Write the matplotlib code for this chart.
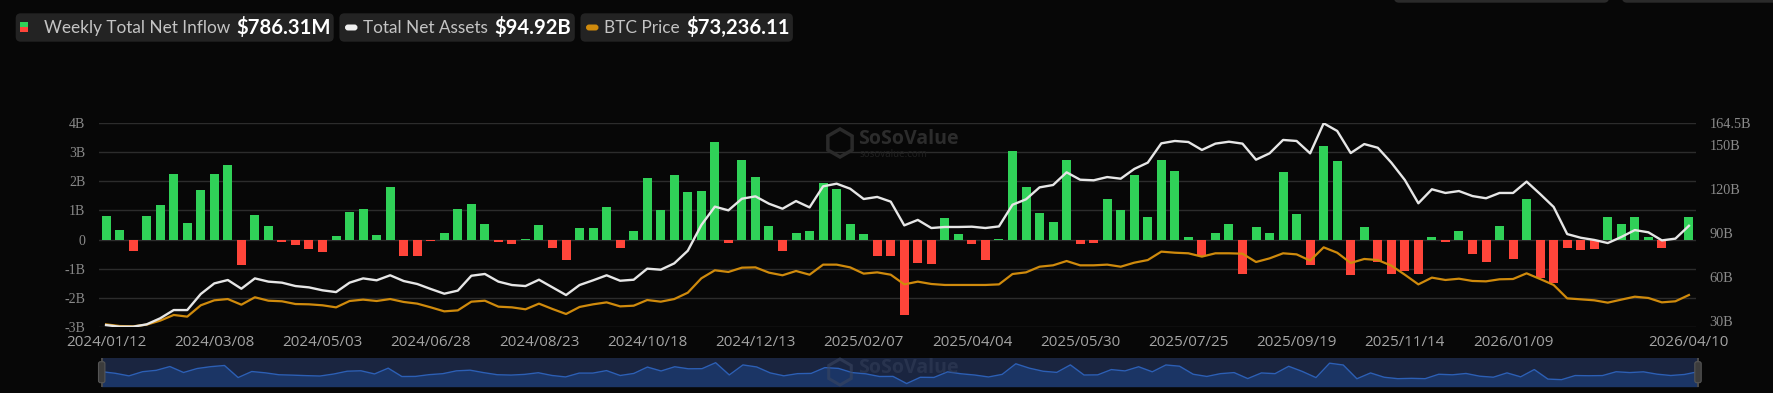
import matplotlib
matplotlib.use("Agg")
import matplotlib.pyplot as plt
from matplotlib.patches import FancyBboxPatch, Rectangle, RegularPolygon
import numpy as np
import pandas as pd

# ---------------- data ----------------
weeks = pd.date_range("2024-01-12", "2026-04-10", freq="7D")
date_labels = [d.strftime("%Y/%m/%d") for d in weeks]

tick_labels = ["2024/01/12", "2024/03/08", "2024/05/03", "2024/06/28", "2024/08/23",
               "2024/10/18", "2024/12/13", "2025/02/07", "2025/04/04", "2025/05/30",
               "2025/07/25", "2025/09/19", "2025/11/14", "2026/01/09", "2026/04/10"]

# Weekly total net inflow (billions USD)
net_inflow = [0.80, 0.34, -0.40, 0.80, 1.19, 2.27, 0.57, 1.71, 2.24, 2.57,
              -0.88, 0.85, 0.47, -0.08, -0.19, -0.33, -0.44, 0.13, 0.94, 1.06,
              0.16, 1.81, -0.58, -0.55, -0.05, 0.23, 1.04, 1.23, 0.53, -0.07,
              -0.17, 0.03, 0.50, -0.28, -0.70, 0.40, 0.40, 1.11, -0.29, 0.30,
              2.12, 1.00, 2.21, 1.63, 1.66, 3.37, -0.13, 2.73, 2.16, 0.45,
              -0.38, 0.24, 0.31, 1.96, 1.74, 0.54, 0.19, -0.57, -0.55, -2.59,
              -0.80, -0.84, 0.75, 0.20, -0.16, -0.71, 0.03, 3.06, 1.80, 0.93,
              0.60, 2.74, -0.15, -0.11, 1.40, 1.02, 2.21, 0.77, 2.72, 2.37,
              0.07, -0.56, 0.24, 0.54, -1.17, 0.44, 0.24, 2.34, 0.87, -0.89,
              3.23, 2.71, -1.22, 0.44, -0.79, -1.20, -1.10, -1.20, 0.07, -0.09,
              0.29, -0.49, -0.78, 0.46, -0.67, 1.41, -1.31, -1.48, -0.30, -0.36,
              -0.31, 0.78, 0.55, 0.76, 0.09, -0.29, 0.00, 0.78631]

# Total net assets (billions USD)
net_assets = [27.5, 26.4, 26.4, 28.0, 32.1, 37.7, 37.7, 48.6, 55.8, 58.1,
              52.2, 59.2, 57.0, 56.3, 54.0, 53.1, 51.1, 49.9, 56.3, 59.2,
              57.9, 61.3, 57.4, 55.4, 52.0, 48.8, 50.9, 61.0, 62.2, 57.0,
              54.7, 54.0, 58.3, 53.1, 47.9, 54.7, 57.9, 61.3, 57.6, 58.3,
              65.8, 65.1, 69.4, 78.0, 95.4, 107.9, 105.4, 113.3, 114.9, 109.9,
              106.5, 111.7, 107.4, 121.7, 123.5, 120.1, 113.1, 114.5, 111.3, 95.2,
              98.9, 93.4, 94.1, 94.1, 94.3, 93.4, 94.5, 109.2, 112.9, 121.0,
              122.6, 131.2, 126.2, 125.8, 128.0, 126.9, 133.5, 137.8, 150.9, 152.5,
              151.8, 146.4, 150.7, 152.0, 150.7, 139.8, 144.1, 153.2, 152.5, 144.1,
              164.5, 159.3, 144.3, 150.4, 147.9, 137.8, 126.0, 110.2, 119.7, 117.2,
              118.5, 115.1, 113.6, 117.2, 117.2, 124.9, 116.5, 107.7, 89.3, 86.8,
              85.3, 83.2, 87.3, 92.0, 90.5, 85.0, 86.2, 94.92]

# BTC price (thousands USD)
btc_price = [43.2, 41.5, 41.2, 42.9, 47.0, 52.8, 51.1, 62.7, 67.8, 69.1,
             63.3, 70.9, 67.4, 66.8, 64.0, 63.7, 62.7, 60.6, 67.1, 68.5,
             67.1, 69.1, 66.1, 64.4, 60.6, 56.5, 57.5, 66.4, 67.4, 61.3,
             60.6, 58.6, 64.4, 58.9, 53.8, 61.0, 63.7, 65.7, 61.6, 62.3,
             68.1, 66.4, 69.1, 75.6, 90.3, 98.5, 96.8, 101.2, 101.5, 96.1,
             93.4, 97.8, 94.0, 104.3, 104.3, 101.5, 95.1, 96.4, 94.0, 84.1,
             86.9, 84.5, 83.5, 83.5, 83.5, 83.5, 84.1, 94.7, 96.4, 102.2,
             103.6, 108.0, 103.6, 103.6, 104.3, 102.2, 106.3, 109.0, 117.6, 116.5,
             115.9, 112.5, 115.9, 115.9, 115.5, 107.0, 110.7, 115.9, 114.8, 108.4,
             122.0, 116.5, 106.0, 110.1, 109.0, 103.3, 94.0, 84.1, 91.0, 88.6,
             89.9, 87.6, 87.2, 89.3, 89.6, 95.4, 89.6, 83.5, 69.8, 68.8,
             67.8, 65.4, 68.5, 71.5, 70.2, 65.7, 66.8, 73.23611]

left_ticks = [-3, -2, -1, 0, 1, 2, 3, 4]
left_tick_labels = ["-3B", "-2B", "-1B", "0", "1B", "2B", "3B", "4B"]
right_ticks = [30, 60, 90, 120, 150, 164.5]
right_tick_labels = ["30B", "60B", "90B", "120B", "150B", "164.5B"]

# ---------------- style ----------------
W, H = 1773, 393
BG = "#070707"
GREEN = "#30d158"
RED = "#ff453a"
WHITE_LINE = "#e6e6e6"
ORANGE = "#cf8a0c"
GRID = "#2c2c2c"

fig = plt.figure(figsize=(W / 100, H / 100), dpi=100, facecolor=BG)


def fx(x):
    return x / W


def fy(y):
    return 1 - y / H


def inch(x, y):
    return x / 100, (H - y) / 100


L, R, T, B = 99.3, 1695.7, 123.3, 326.7
ax = fig.add_axes([fx(L), fy(B), fx(R) - fx(L), fy(T) - fy(B)])
ax.set_facecolor("none")
for s in ax.spines.values():
    s.set_visible(False)

x = np.arange(len(net_inflow))
vals = np.array(net_inflow)
colors = [GREEN if v >= 0 else RED for v in vals]
ax.bar(x, vals, width=0.665, color=colors, zorder=2)
ax.set_xlim(-0.5, len(x) - 0.5)
ax.set_ylim(-3, 4)
ax.set_yticks(left_ticks)
ax.set_yticklabels(left_tick_labels)
ax.grid(axis="y", color=GRID, linewidth=1.0, zorder=0)
ax.set_axisbelow(True)
ax.tick_params(axis="y", length=0, pad=10, labelsize=10, labelcolor="#8a8a8a")
for lab in ax.get_yticklabels():
    lab.set_family("Liberation Serif")

tick_pos = [date_labels.index(t) for t in tick_labels]
ax.set_xticks(tick_pos)
ax.set_xticklabels(tick_labels)
ax.tick_params(axis="x", length=0, pad=6, labelsize=10.9, labelcolor="#a4a4a4")
for lab in ax.get_xticklabels():
    lab.set_family("Open Sans")

ax2 = ax.twinx()
ax2.set_position(ax.get_position())
for s in ax2.spines.values():
    s.set_visible(False)
ax2.plot(x, net_assets, color=WHITE_LINE, linewidth=1.7, zorder=4)
ax2.set_ylim(26.4, 164.5)
ax2.set_yticks(right_ticks)
ax2.set_yticklabels(right_tick_labels)
ax2.tick_params(axis="y", length=0, pad=10, labelsize=10.3, labelcolor="#8a8a8a")
for lab in ax2.get_yticklabels():
    lab.set_family("Liberation Serif")

ax3 = ax.twinx()
ax3.set_position(ax.get_position())
ax3.axis("off")
ax3.plot(x, btc_price, color=ORANGE, linewidth=1.6, zorder=3)
ax3.set_ylim(40.8, 248.9)
ax2.set_zorder(ax3.get_zorder() + 1)
ax2.patch.set_visible(False)

# ---------------- watermark ----------------
fig.patches.append(RegularPolygon(inch(840, 143), numVertices=6, radius=0.14,
                                  orientation=0, transform=fig.dpi_scale_trans,
                                  facecolor="none", edgecolor="#2a2a2a", linewidth=2.5))
fig.text(fx(858), fy(139), "SoSoValue", color="#2c2c2c", fontsize=14,
         fontweight="bold", family="Open Sans", va="center", ha="left")
fig.text(fx(860), fy(154), "sosovalue.com", color="#222222", fontsize=7,
         family="Open Sans", va="center", ha="left")

# ---------------- slider ----------------
sx0, sx1, sy0, sy1 = 101.7, 1698, 357.7, 386.7
sax = fig.add_axes([fx(sx0), fy(sy1), fx(sx1) - fx(sx0), fy(sy0) - fy(sy1)])
sax.set_facecolor("#1a2540")
sax.fill_between(x, vals, -3.49, color="#1b3565", linewidth=0)
sax.plot(x, vals, color="#2c5fb5", linewidth=1.0)
sax.set_xlim(0, len(x) - 1)
sax.set_ylim(-3.49, 4.8)
sax.axis("off")
sax.add_patch(Rectangle((0, 0), 1, 1, transform=sax.transAxes, facecolor="#1a2540",
                        zorder=-1))
for hx in (sx0, sx1):
    fig.patches.append(Rectangle(inch(hx - 0.8, sy1), 0.016, (sy1 - sy0) / 100,
                                 transform=fig.dpi_scale_trans, facecolor="#4a4a4a",
                                 edgecolor="none"))
    fig.patches.append(FancyBboxPatch(inch(hx - 3.2, 382.7), 0.064, 0.21,
                                      boxstyle="round,pad=0,rounding_size=0.02",
                                      transform=fig.dpi_scale_trans,
                                      facecolor="#3c3c3c", edgecolor="#555555",
                                      linewidth=0.8))
fig.patches.append(RegularPolygon(inch(840, 372), numVertices=6, radius=0.13,
                                  orientation=0, transform=fig.dpi_scale_trans,
                                  facecolor="none", edgecolor="#3a4660", linewidth=2.2,
                                  alpha=0.6))
fig.text(fx(858), fy(368), "SoSoValue", color="#3a4660", fontsize=14,
         fontweight="bold", family="Open Sans", va="center", ha="left", alpha=0.45)

# ---------------- header legend ----------------
def box(x0, x1, y0, y1, color="#232323", r=0.05):
    fig.patches.append(FancyBboxPatch(inch(x0, y1), (x1 - x0) / 100, (y1 - y0) / 100,
                                      boxstyle=f"round,pad=0,rounding_size={r}",
                                      transform=fig.dpi_scale_trans,
                                      facecolor=color, edgecolor="none"))


box(15.7, 333.7, 13.3, 41.7)
box(339.4, 574.8, 13.3, 41.7)
box(580.5, 792.9, 13.3, 41.7)
# partially visible controls at top right
box(1394, 1609, -20, 2.7, color="#2a2a2a")
box(1622, 1790, -20, 2.7, color="#2a2a2a")

# icons
fig.patches.append(Rectangle(inch(20, 27), 0.08, 0.05, transform=fig.dpi_scale_trans,
                             facecolor=GREEN, edgecolor="none"))
fig.patches.append(Rectangle(inch(20, 32.3), 0.08, 0.053, transform=fig.dpi_scale_trans,
                             facecolor=RED, edgecolor="none"))
fig.patches.append(FancyBboxPatch(inch(345, 30.5), 0.125, 0.06,
                                  boxstyle="round,pad=0,rounding_size=0.03",
                                  transform=fig.dpi_scale_trans,
                                  facecolor="#f0f0f0", edgecolor="none"))
fig.patches.append(FancyBboxPatch(inch(586, 30.5), 0.125, 0.06,
                                  boxstyle="round,pad=0,rounding_size=0.03",
                                  transform=fig.dpi_scale_trans,
                                  facecolor=ORANGE, edgecolor="none"))

HY = 27.8
LAB_C = "#c4c4c4"
fs = 12.4
vfs = 14.6
fig.text(fx(44), fy(HY), "Weekly Total Net Inflow", color=LAB_C, fontsize=fs,
         family="Lato", va="center", ha="left")
fig.text(fx(236.4), fy(HY), "$786.31M", color="white", fontsize=vfs,
         family="Lato", fontweight="bold", va="center", ha="left")
fig.text(fx(363), fy(HY), "Total Net Assets", color=LAB_C, fontsize=fs,
         family="Lato", va="center", ha="left")
fig.text(fx(494), fy(HY), "$94.92B", color="white", fontsize=vfs,
         family="Lato", fontweight="bold", va="center", ha="left")
fig.text(fx(604), fy(HY), "BTC Price", color=LAB_C, fontsize=fs,
         family="Lato", va="center", ha="left")
fig.text(fx(686), fy(HY), "$73,236.11", color="white", fontsize=vfs,
         family="Lato", fontweight="bold", va="center", ha="left")

fig.savefig("out.png", dpi=100, facecolor=BG)
